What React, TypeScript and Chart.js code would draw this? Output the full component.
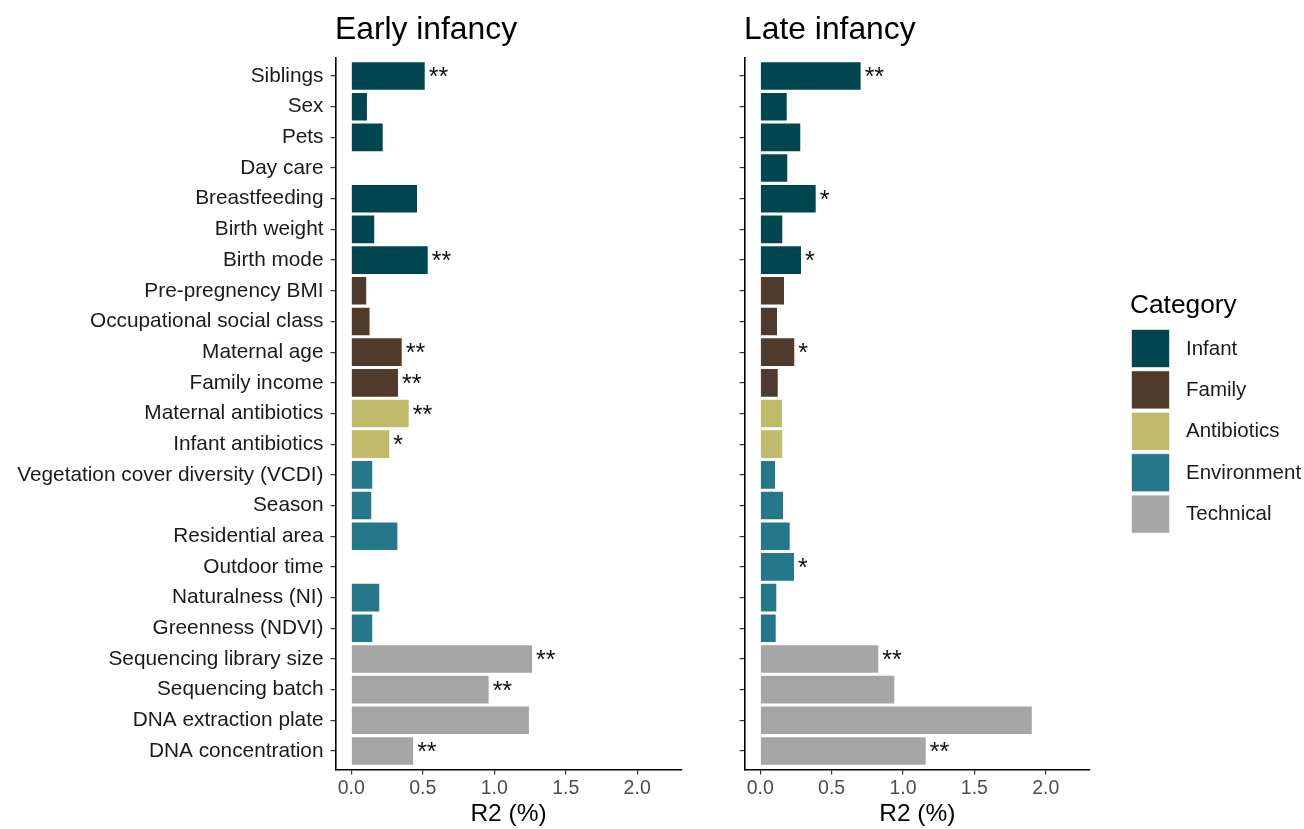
import React, { useEffect, useRef } from 'react';
import { Chart, registerables } from 'chart.js';

Chart.register(...registerables);

const FONT = '"Liberation Sans", Arial, sans-serif';

const variables = [
  'Siblings', 'Sex', 'Pets', 'Day care', 'Breastfeeding', 'Birth weight', 'Birth mode',
  'Pre-pregnency BMI', 'Occupational social class', 'Maternal age', 'Family income',
  'Maternal antibiotics', 'Infant antibiotics',
  'Vegetation cover diversity (VCDI)', 'Season', 'Residential area', 'Outdoor time',
  'Naturalness (NI)', 'Greenness (NDVI)',
  'Sequencing library size', 'Sequencing batch', 'DNA extraction plate', 'DNA concentration',
];

const variableCategory = [
  'Infant', 'Infant', 'Infant', 'Infant', 'Infant', 'Infant', 'Infant',
  'Family', 'Family', 'Family', 'Family',
  'Antibiotics', 'Antibiotics',
  'Environment', 'Environment', 'Environment', 'Environment', 'Environment', 'Environment',
  'Technical', 'Technical', 'Technical', 'Technical',
];

const categories = ['Infant', 'Family', 'Antibiotics', 'Environment', 'Technical'];
const categoryColors = ['#00464E', '#4F3A2B', '#C0BB6B', '#25778A', '#A5A5A5'];

const earlyR2 = [0.514, 0.110, 0.220, 0, 0.460, 0.161, 0.535, 0.105, 0.128, 0.353, 0.327, 0.402, 0.266, 0.147, 0.140, 0.323, 0, 0.196, 0.147, 1.265, 0.961, 1.243, 0.433];
const lateR2 = [0.703, 0.185, 0.280, 0.189, 0.388, 0.154, 0.285, 0.166, 0.117, 0.238, 0.122, 0.152, 0.154, 0.103, 0.159, 0.206, 0.236, 0.112, 0.108, 0.827, 0.939, 1.902, 1.159];

const earlySig = ['**', '', '', '', '', '', '**', '', '', '**', '**', '**', '*', '', '', '', '', '', '', '**', '**', '', '**'];
const lateSig = ['**', '', '', '', '*', '', '*', '', '', '*', '', '', '', '', '', '', '*', '', '', '**', '', '', '**'];

const xTicks = [0, 0.5, 1, 1.5, 2];
const xMin = -0.11;
const xMax = 2.31;

const colorFor = (cat: string) => categoryColors[categories.indexOf(cat)];

function titlePlugin(text: string) {
  return {
    id: 'panelTitle',
    afterDraw(chart: any) {
      const ctx = chart.ctx;
      ctx.save();
      ctx.font = `31.8px ${FONT}`;
      ctx.fillStyle = '#000';
      ctx.textAlign = 'left';
      ctx.textBaseline = 'alphabetic';
      ctx.fillText(text, chart.chartArea.left - 0.5, 38.5);
      ctx.restore();
    },
  };
}

function starsPlugin(sig: string[]) {
  return {
    id: 'stars',
    afterDatasetsDraw(chart: any) {
      const ctx = chart.ctx;
      const meta = chart.getDatasetMeta(0);
      ctx.save();
      ctx.font = `25px ${FONT}`;
      ctx.fillStyle = '#111';
      ctx.textAlign = 'left';
      ctx.textBaseline = 'alphabetic';
      meta.data.forEach((el: any, i: number) => {
        const s = sig[i];
        if (!s) return;
        ctx.fillText(s, el.x + 4, el.y + 9);
      });
      ctx.restore();
    },
  };
}

const legendPlugin = {
  id: 'categoryLegend',
  afterDraw(chart: any) {
    const ctx = chart.ctx;
    const ox = 1131 - 700;
    ctx.save();
    ctx.font = `26.3px ${FONT}`;
    ctx.fillStyle = '#000';
    ctx.textAlign = 'left';
    ctx.textBaseline = 'alphabetic';
    ctx.fillText('Category', ox - 1, 313);
    categories.forEach((c, i) => {
      const top = 329.5 + i * 41.4;
      ctx.fillStyle = categoryColors[i];
      ctx.fillRect(ox + 0.5, top, 38, 38);
      ctx.strokeStyle = 'rgba(255,255,255,0.6)';
      ctx.lineWidth = 1;
      ctx.strokeRect(ox + 0.5, top, 38, 38);
      ctx.fillStyle = '#1a1a1a';
      ctx.font = `20.5px ${FONT}`;
      ctx.textBaseline = 'middle';
      ctx.fillText(c, 1186 - 700, top + 19.5);
    });
    ctx.restore();
  },
};

function makeConfig(values: number[], sig: string[], title: string, showLabels: boolean, yWidth: number, padRight: number, withLegend: boolean): any {
  const plugins: any[] = [titlePlugin(title), starsPlugin(sig)];
  if (withLegend) plugins.push(legendPlugin);
  return {
    type: 'bar',
    data: {
      datasets: [
        {
          data: values.map((v, i) => ({ x: v, y: i })),
          backgroundColor: variableCategory.map(colorFor),
          borderWidth: 0,
          barPercentage: 0.9,
          categoryPercentage: 1.0,
        },
      ],
    },
    options: {
      indexAxis: 'y',
      responsive: false,
      animation: false,
      events: [],
      layout: { padding: { left: 0, top: 57.6, right: padRight, bottom: 0 } },
      plugins: { legend: { display: false }, tooltip: { enabled: false }, title: { display: false } },
      scales: {
        y: {
          type: 'linear',
          reverse: true,
          offset: false,
          min: -0.6,
          max: variables.length - 0.4,
          afterBuildTicks: (scale: any) => {
            scale.ticks = variables.map((_, i) => ({ value: i }));
          },
          afterFit: (scale: any) => {
            scale.width = yWidth;
          },
          border: { display: true, color: '#000', width: 1.6 },
          grid: { offset: false, drawOnChartArea: false, drawTicks: true, tickLength: 5, color: '#333', lineWidth: 1.2 },
          ticks: {
            autoSkip: false,
            padding: 7,
            color: '#1a1a1a',
            font: { size: 20.8, family: FONT },
            callback: (v: number) => (showLabels ? variables[v] : ''),
          },
        },
        x: {
          type: 'linear',
          offset: false,
          min: xMin,
          max: xMax,
          afterBuildTicks: (scale: any) => {
            scale.ticks = xTicks.map((v) => ({ value: v }));
          },
          afterFit: (scale: any) => {
            scale.height = 829 - 769.4;
          },
          border: { display: true, color: '#000', width: 1.6 },
          grid: { offset: false, drawOnChartArea: false, drawTicks: true, tickLength: 5, color: '#333', lineWidth: 1.2 },
          ticks: {
            autoSkip: false,
            padding: 3,
            color: '#4d4d4d',
            font: { size: 19.5, family: FONT },
            callback: (v: number) => v.toFixed(1),
          },
          title: {
            display: true,
            text: 'R2 (%)',
            color: '#000',
            font: { size: 24.5, family: FONT },
            padding: { top: 0, bottom: 0 },
          },
        },
      },
    },
    plugins,
  };
}

export default function App() {
  const leftRef = useRef<HTMLCanvasElement>(null);
  const rightRef = useRef<HTMLCanvasElement>(null);

  useEffect(() => {
    Chart.defaults.font.family = FONT;
    const left = new Chart(leftRef.current as HTMLCanvasElement, makeConfig(earlyR2, earlySig, 'Early infancy', true, 335.5, 18.5, false));
    const right = new Chart(rightRef.current as HTMLCanvasElement, makeConfig(lateR2, lateSig, 'Late infancy', false, 44.6, 214, true));
    return () => {
      left.destroy();
      right.destroy();
    };
  }, []);

  return (
    <div style={{ position: 'absolute', left: 0, top: 0, width: 1304, height: 829, background: '#fff', overflow: 'hidden' }}>
      <canvas ref={leftRef} width={700} height={829} style={{ position: 'absolute', left: 0, top: 0, width: 700, height: 829 }} />
      <canvas ref={rightRef} width={604} height={829} style={{ position: 'absolute', left: 700, top: 0, width: 604, height: 829 }} />
    </div>
  );
}
